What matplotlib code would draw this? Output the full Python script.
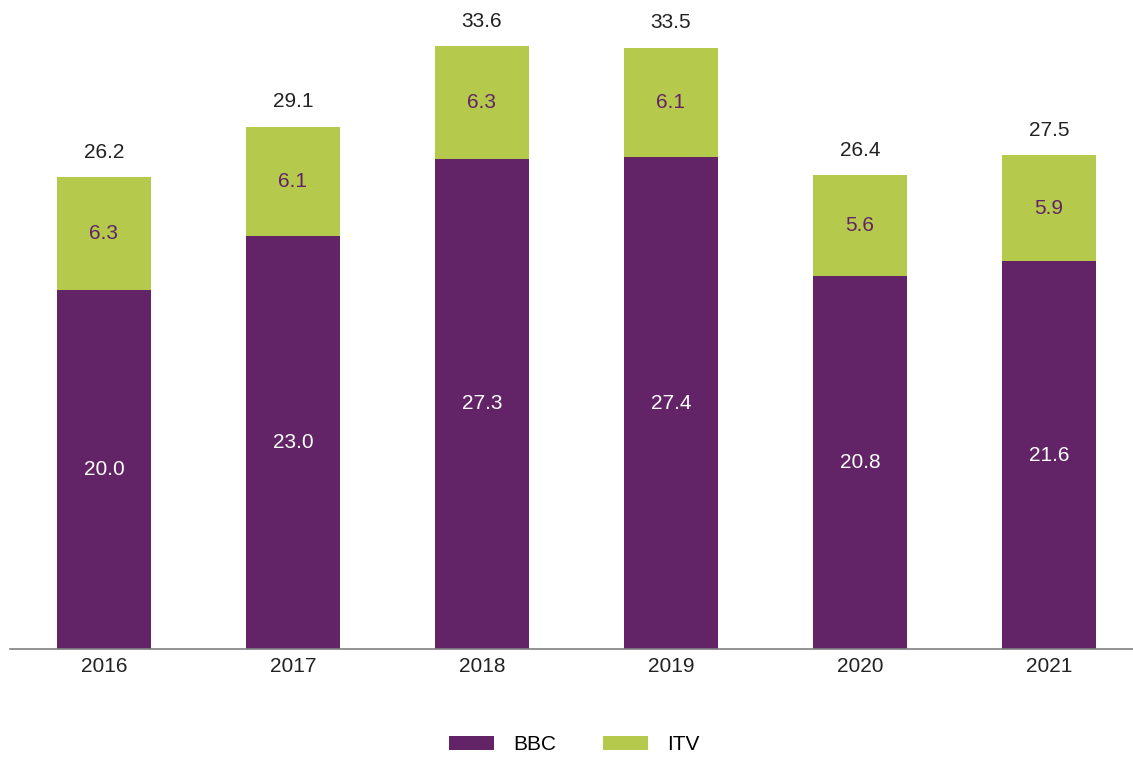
import matplotlib
matplotlib.use("Agg")
import matplotlib.pyplot as plt
import numpy as np

years = ["2016", "2017", "2018", "2019", "2020", "2021"]
bbc = [20.0, 23.0, 27.3, 27.4, 20.8, 21.6]
itv = [6.3, 6.1, 6.3, 6.1, 5.6, 5.9]
totals = [26.2, 29.1, 33.6, 33.5, 26.4, 27.5]

purple = "#622466"
green = "#B5C94C"

plt.rcParams['font.family'] = ['Liberation Sans', 'DejaVu Sans']

fig = plt.figure(figsize=(11.33, 7.58), dpi=100)
ax = fig.add_axes([10/1133, 109/758, 1 - 10/1133, 649/758])

x = np.arange(len(years))
w = 0.5
b1 = ax.bar(x, bbc, w, color=purple, label="BBC")
b2 = ax.bar(x, itv, w, bottom=bbc, color=green, label="ITV")

for i in range(len(years)):
    ax.text(x[i], bbc[i] / 2, f"{bbc[i]:.1f}", ha="center", va="center",
            color="white", fontsize=15)
    ax.text(x[i], bbc[i] + itv[i] / 2, f"{itv[i]:.1f}", ha="center", va="center",
            color=purple, fontsize=15)
    ax.annotate(f"{totals[i]:.1f}", (x[i], bbc[i] + itv[i]), xytext=(0, 11),
                textcoords="offset points", ha="center", va="bottom",
                color="#222222", fontsize=15)

ax.set_xlim(-0.497, 5.445)
ax.set_ylim(0, 649 / 17.95)
ax.set_xticks(x)
ax.set_xticklabels(years, fontsize=15, color="#222222")
ax.tick_params(axis="x", length=0, pad=6)
ax.set_yticks([])
for s in ["top", "right", "left"]:
    ax.spines[s].set_visible(False)
ax.spines["bottom"].set_color("#808080")
ax.spines["bottom"].set_linewidth(1.2)

fig.legend(handles=[b1, b2], labels=["BBC", "ITV"], loc="center",
           bbox_to_anchor=(574/1133, 1 - 745/758), ncol=2, frameon=False,
           fontsize=15, handlelength=2.16, handleheight=0.67, columnspacing=2.25,
           handletextpad=0.91)

fig.savefig("out.png", dpi=100)
